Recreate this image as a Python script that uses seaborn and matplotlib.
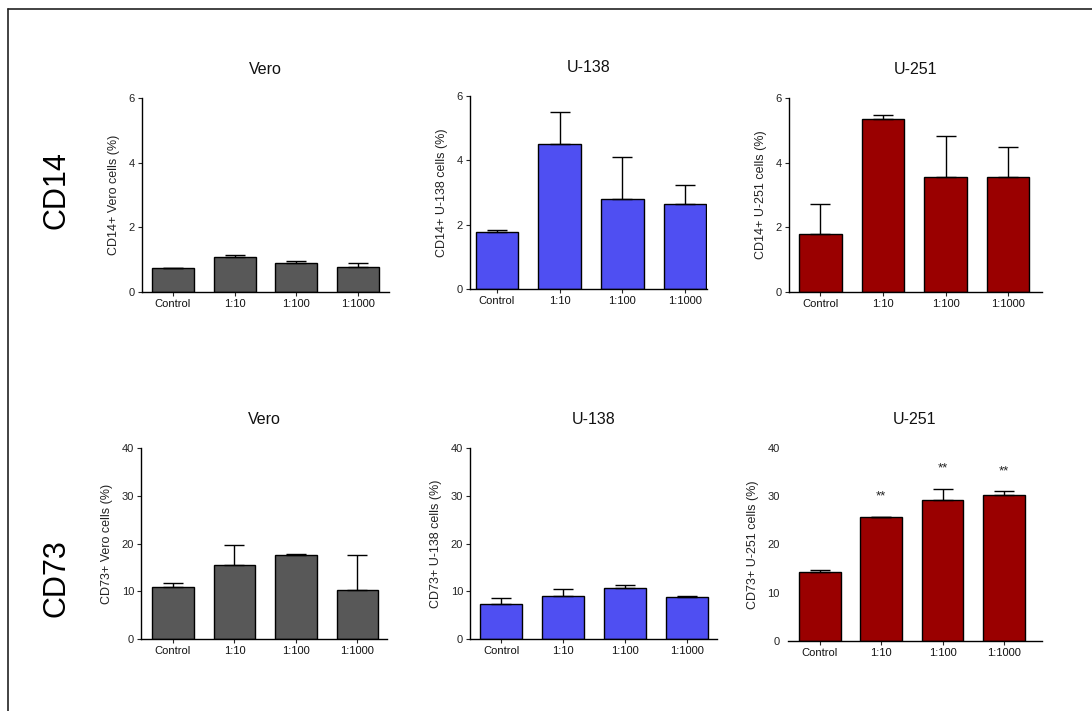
import matplotlib
matplotlib.use("Agg")
import matplotlib.pyplot as plt
import seaborn as sns
import numpy as np
from matplotlib.lines import Line2D

# ---------------- data ----------------
categories = ["Control", "1:10", "1:100", "1:1000"]
cell_lines = ["Vero", "U-138", "U-251"]

cd14_vero_mean = [0.73, 1.08, 0.89, 0.77]
cd14_vero_upper = [0.75, 1.15, 0.95, 0.91]
cd14_u138_mean = [1.76, 4.50, 2.80, 2.64]
cd14_u138_upper = [1.84, 5.50, 4.09, 3.24]
cd14_u251_mean = [1.80, 5.35, 3.55, 3.55]
cd14_u251_upper = [2.71, 5.46, 4.82, 4.50]

cd73_vero_mean = [10.8, 15.5, 17.6, 10.2]
cd73_vero_upper = [11.7, 19.7, 17.7, 17.6]
cd73_u138_mean = [7.3, 9.1, 10.7, 8.9]
cd73_u138_upper = [8.6, 10.5, 11.3, 9.1]
cd73_u251_mean = [14.3, 25.6, 29.2, 30.2]
cd73_u251_upper = [14.8, 25.7, 31.6, 31.0]
cd73_u251_stars = ["", "**", "**", "**"]

cd14_ticks = [0, 2, 4, 6]
cd73_ticks = [0, 10, 20, 30, 40]

colors = {"Vero": "#585858", "U-138": "#4f4ff2", "U-251": "#9a0000"}

# ---------------- figure ----------------
sns.set_theme(style="ticks")
plt.rcParams["font.family"] = ["Liberation Sans", "DejaVu Sans"]

W, H = 1092, 711
fig = plt.figure(figsize=(W / 100, H / 100), dpi=100)
fig.patch.set_facecolor("white")


def make_ax(left, right, top, bottom):
    return fig.add_axes([left / W, 1 - bottom / H, (right - left) / W, (bottom - top) / H])


panels = [
    (cd14_vero_mean, cd14_vero_upper, cd14_ticks, 6, "CD14+ Vero cells (%)", (142, 389, 98, 292), (-0.5, 3.5), "Vero", True),
    (cd14_u138_mean, cd14_u138_upper, cd14_ticks, 6, "CD14+ U-138 cells (%)", (470, 707, 96, 289), (-0.43, 3.35), "U-138", True),
    (cd14_u251_mean, cd14_u251_upper, cd14_ticks, 6, "CD14+ U-251 cells (%)", (789, 1042, 98, 292), (-0.5, 3.54), "U-251", True),
    (cd73_vero_mean, cd73_vero_upper, cd73_ticks, 40, "CD73+ Vero cells (%)", (141, 387, 448, 639), (-0.52, 3.48), "Vero", True),
    (cd73_u138_mean, cd73_u138_upper, cd73_ticks, 40, "CD73+ U-138 cells (%)", (470, 717, 448, 639), (-0.51, 3.49), "U-138", True),
    (cd73_u251_mean, cd73_u251_upper, cd73_ticks, 40, "CD73+ U-251 cells (%)", (788, 1042, 448, 641), (-0.52, 3.62), "U-251", False),
]

for i, (mean, upper, ticks, ymax, ylabel, box, xlim, line, left_spine) in enumerate(panels):
    ax = make_ax(*box)
    ax.set_facecolor("white")
    sns.barplot(x=categories, y=mean, ax=ax, color=colors[line], edgecolor="black",
                linewidth=1.0, width=0.68, saturation=1, errorbar=None)
    err = np.array(upper) - np.array(mean)
    ax.errorbar(np.arange(len(categories)), mean, yerr=[np.zeros_like(err), err],
                fmt="none", ecolor="black", elinewidth=1.0, capsize=7.5, capthick=1.0)
    ax.set_xlim(*xlim)
    ax.set_ylim(0, ymax)
    ax.set_yticks(ticks)
    ax.set_yticklabels([str(t) for t in ticks], fontsize=8, color="#222222")
    ax.set_xticks(range(len(categories)))
    ax.set_xticklabels(categories, fontsize=8, color="#111111")
    ax.set_xlabel("")
    ax.set_ylabel(ylabel, fontsize=9, color="#222222", labelpad=6)
    ax.set_title(line, fontsize=11.5, pad=17, color="#111111")
    sns.despine(ax=ax)
    for s in ["left", "bottom"]:
        ax.spines[s].set_linewidth(1.0)
        ax.spines[s].set_color("black")
    ax.tick_params(axis="both", length=3, width=0.8, pad=2)
    if not left_spine:
        ax.spines["left"].set_visible(False)
        ax.tick_params(axis="y", length=0, pad=6)
        for xi, (u, s) in enumerate(zip(upper, cd73_u251_stars)):
            if s:
                ax.text(xi, u + 4.2, s, ha="center", va="center", fontsize=9.5, color="#222222")

# row labels
fig.text(56 / W, 1 - 190 / H, "CD14", rotation=90, ha="center", va="center", fontsize=22, color="black")
fig.text(56 / W, 1 - 578 / H, "CD73", rotation=90, ha="center", va="center", fontsize=22, color="black")

# frame lines (top and left)
fig.add_artist(Line2D([8 / W, 8 / W], [0, 1 - 9 / H], transform=fig.transFigure, color="#222222", lw=1.2))
fig.add_artist(Line2D([8 / W, 1], [1 - 9 / H, 1 - 9 / H], transform=fig.transFigure, color="#222222", lw=1.2))

fig.savefig("out.png", dpi=100, facecolor="white")
